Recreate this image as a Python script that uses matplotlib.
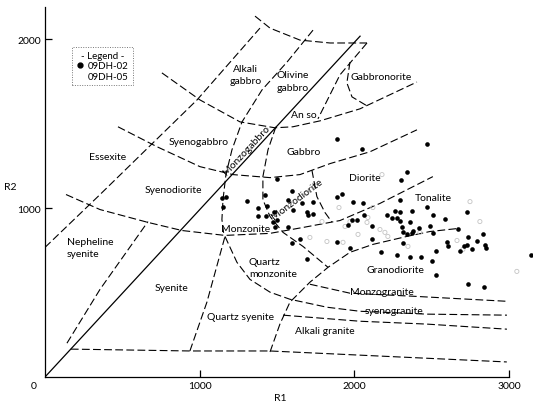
import matplotlib
matplotlib.use("Agg")
import matplotlib.pyplot as plt
from matplotlib.lines import Line2D

plt.rcParams['font.family'] = ['Lato', 'DejaVu Sans']

# --- sample compositions (R1, R2) ---
dh02_r1 = [1144, 1170, 1151, 1306, 1377, 1435, 1377, 1429, 1474, 1500, 1480, 1422, 1500,
           1487, 1571, 1597, 1571, 1662, 1603, 1694, 1700, 1733, 1733, 1597, 1649, 1694,
           1888, 2049, 1888, 1920, 1991, 2056, 1985, 2017, 2062, 1959, 1888, 1972, 2114,
           2114, 2470, 2340, 2302, 2295, 2263, 2295, 2373, 2211, 2243, 2276, 2295, 2360,
           2308, 2314, 2340, 2373, 2379, 2418, 2314, 2172, 2276, 2360, 2431, 2470, 2489,
           2508, 2508, 2528, 2502, 2528, 2586, 2599, 2605, 2670, 2728, 2735, 2709, 2728,
           2683, 2761, 2793, 2832, 2845, 2851, 2735, 2838, 3142]
dh02_r2 = [1062, 1068, 1009, 1044, 1003, 1015, 950, 950, 920, 932, 979, 1080, 1174,
           885, 885, 1103, 1050, 1027, 991, 974, 956, 962, 1033, 791, 814, 696,
           1410, 1351, 1068, 1086, 1033, 1027, 932, 932, 956, 897, 797, 761, 891,
           814, 1381, 1215, 1168, 1050, 985, 979, 985, 956, 944, 944, 926, 920,
           885, 856, 844, 850, 867, 879, 791, 738, 720, 708, 708, 1009, 891,
           956, 850, 743, 684, 602, 938, 797, 773, 873, 974, 826, 773, 779,
           743, 755, 802, 844, 779, 761, 549, 531, 720]

dh05_r1 = [1901, 1940, 2088, 2120, 2166, 2347, 2424, 2702, 2748, 2812, 3051, 2217,
           2024, 1823, 1927, 2082, 2198, 1972, 1791, 2664, 1713, 2179]
dh05_r2 = [1003, 891, 944, 1003, 873, 773, 856, 755, 1038, 920, 625, 832,
           844, 802, 797, 915, 856, 920, 920, 808, 826, 1198]

# --- field boundaries of the R1-R2 classification ---
monzogabbro_r1 = [0, 2040]
monzogabbro_r2 = [0, 2020]

essexite_r1 = [0, 356, 983, 1390]
essexite_r2 = [767, 1080, 1640, 2065]

nepheline_r1 = [142, 356, 666]
nepheline_r2 = [200, 519, 920]

base_r1 = [167, 937, 1454, 2986]
base_r2 = [165, 154, 154, 89]

syenite_r1 = [937, 1047, 1164]
syenite_r2 = [154, 443, 832]

monzonite_r1 = [136, 356, 666, 886, 1163, 1454, 1668, 1907, 2165, 2508]
monzonite_r2 = [1080, 991, 915, 867, 838, 850, 885, 926, 1027, 1186]

diorite_r1 = [472, 724, 1002, 1215, 1455, 1649, 1843, 2101, 2405]
diorite_r2 = [1481, 1363, 1245, 1198, 1180, 1198, 1263, 1333, 1463]

gabbro_r1 = [756, 1002, 1261, 1487, 1603, 1778, 2036, 2405]
gabbro_r2 = [1800, 1640, 1510, 1475, 1481, 1516, 1587, 1746]

olivine_r1 = [1358, 1455, 1649, 1843, 2082]
olivine_r2 = [2136, 2065, 1994, 1977, 1977]

alkgabbro_r1 = [1733, 1565, 1403, 1274, 1209, 1170, 1151, 1144, 1157]
alkgabbro_r2 = [2053, 1864, 1699, 1510, 1345, 1198, 1050, 932, 838]

anso_r1 = [2082, 1907, 1765]
anso_r2 = [1977, 1788, 1528]

norite_r1 = [1972, 1952, 1985, 2082]
norite_r2 = [1864, 1741, 1658, 1605]

qmonz_r1 = [1493, 1442, 1409, 1409, 1455, 1539, 1668, 1830]
qmonz_r2 = [1481, 1345, 1186, 1050, 950, 856, 773, 649]

monzodiorite_r1 = [1726, 1758, 1810, 1855]
monzodiorite_r2 = [1224, 1068, 974, 917]

syenogranite_r1 = [1164, 1241, 1325, 1455, 1584, 1823, 2036, 2470, 2987]
syenogranite_r2 = [832, 679, 578, 502, 460, 413, 389, 372, 366]

monzogranite_r1 = [1713, 1972, 2379, 2987]
monzogranite_r2 = [549, 496, 478, 448]

granodiorite_r1 = [1455, 1519, 1584, 1713, 1830, 1972, 2121, 2340, 2489, 2670]
granodiorite_r2 = [148, 313, 443, 561, 649, 738, 785, 832, 861, 879]

alkgranite_r1 = [1539, 2036, 2470, 2987]
alkgranite_r2 = [366, 330, 313, 283]

# --- field names: (text, R1, R2, rotation, alignment) ---
field_labels = [
    ("Alkali\ngabbro", 1299, 1788, 0, 'center'),
    ("Olivine\ngabbro", 1499, 1752, 0, 'left'),
    ("Gabbronorite", 2172, 1776, 0, 'center'),
    ("An so", 1674, 1552, 0, 'center'),
    ("Syenogabbro", 996, 1392, 0, 'center'),
    ("Essexite", 407, 1304, 0, 'center'),
    ("Syenodiorite", 828, 1109, 0, 'center'),
    ("Monzogabbro", 1306, 1345, 47, 'center'),
    ("Gabbro", 1674, 1333, 0, 'center'),
    ("Diorite", 2069, 1180, 0, 'center'),
    ("Tonalite", 2508, 1062, 0, 'center'),
    ("Monzodiorite", 1629, 1056, 37, 'center'),
    ("Monzonite", 1299, 879, 0, 'center'),
    ("Nepheline\nsyenite", 142, 767, 0, 'left'),
    ("Syenite", 815, 531, 0, 'center'),
    ("Quartz\nmonzonite", 1319, 649, 0, 'left'),
    ("Quartz syenite", 1261, 360, 0, 'center'),
    ("Granodiorite", 2269, 637, 0, 'center'),
    ("Monzogranite", 2179, 507, 0, 'center'),
    ("syenogranite", 2256, 395, 0, 'center'),
    ("Alkali granite", 1810, 277, 0, 'center'),
]

fig = plt.figure(figsize=(5.33, 4.06), dpi=100)
ax = fig.add_axes([0.0844, 0.069, 0.8705, 0.9113])

dash = (0, (7, 3))
lw = 0.8
ax.plot(monzogabbro_r1, monzogabbro_r2, color='black', lw=0.9, solid_capstyle='butt')
for xs, ys in [(essexite_r1, essexite_r2), (nepheline_r1, nepheline_r2),
               (base_r1, base_r2), (syenite_r1, syenite_r2),
               (monzonite_r1, monzonite_r2), (diorite_r1, diorite_r2),
               (gabbro_r1, gabbro_r2), (olivine_r1, olivine_r2),
               (alkgabbro_r1, alkgabbro_r2), (anso_r1, anso_r2),
               (norite_r1, norite_r2), (qmonz_r1, qmonz_r2),
               (monzodiorite_r1, monzodiorite_r2),
               (syenogranite_r1, syenogranite_r2),
               (monzogranite_r1, monzogranite_r2),
               (granodiorite_r1, granodiorite_r2),
               (alkgranite_r1, alkgranite_r2)]:
    ax.plot(xs, ys, color='black', lw=lw, linestyle=dash)

for text, x, y, rot, ha in field_labels:
    ax.text(x, y, text, fontsize=7.5, ha=ha, va='center', rotation=rot,
            rotation_mode='anchor', linespacing=1.45, color='black')

ax.scatter(dh05_r1, dh05_r2, s=9, facecolors='none', edgecolors='#c4c4c4',
           linewidths=0.6, clip_on=False, zorder=3)
ax.scatter(dh02_r1, dh02_r2, s=11, color='black', linewidths=0,
           clip_on=False, zorder=4)

ax.set_xlim(0, 3000)
ax.set_ylim(0, 2190)
ax.spines['top'].set_visible(False)
ax.spines['right'].set_visible(False)
ax.spines['left'].set_linewidth(0.9)
ax.spines['bottom'].set_linewidth(0.9)
ax.set_xticks([1000, 2000, 3000])
ax.set_yticks([1000, 2000])
ax.tick_params(direction='in', length=5, width=0.9, labelsize=7.5, pad=3)
ax.annotate('0', xy=(0, 0), xytext=(-8, -6), textcoords='offset points',
            ha='center', va='center', fontsize=7.5)

ax.set_xlabel('R1', fontsize=7.5, va='center')
ax.xaxis.set_label_coords(0.506, -0.055)
ax.set_ylabel('R2', fontsize=7.5, rotation=0, va='center')
ax.yaxis.set_label_coords(-0.075, 0.516)

handles = [
    Line2D([], [], marker='o', linestyle='none', color='black', markersize=3.5),
    Line2D([], [], marker='o', linestyle='none', markerfacecolor='none',
           markeredgecolor='white', markersize=3.5),
]
leg = ax.legend(handles, ['09DH-02', '09DH-05'], title='- Legend -',
                loc='upper left', bbox_to_anchor=(0.047, 0.905), fontsize=7,
                title_fontsize=7, frameon=True, fancybox=False,
                handletextpad=0.3, handlelength=1.0, borderpad=0.4,
                labelspacing=0.15)
frame = leg.get_frame()
frame.set_edgecolor('#555555')
frame.set_linestyle((0, (1, 1.5)))
frame.set_linewidth(0.7)

fig.savefig('out.png', dpi=100)
